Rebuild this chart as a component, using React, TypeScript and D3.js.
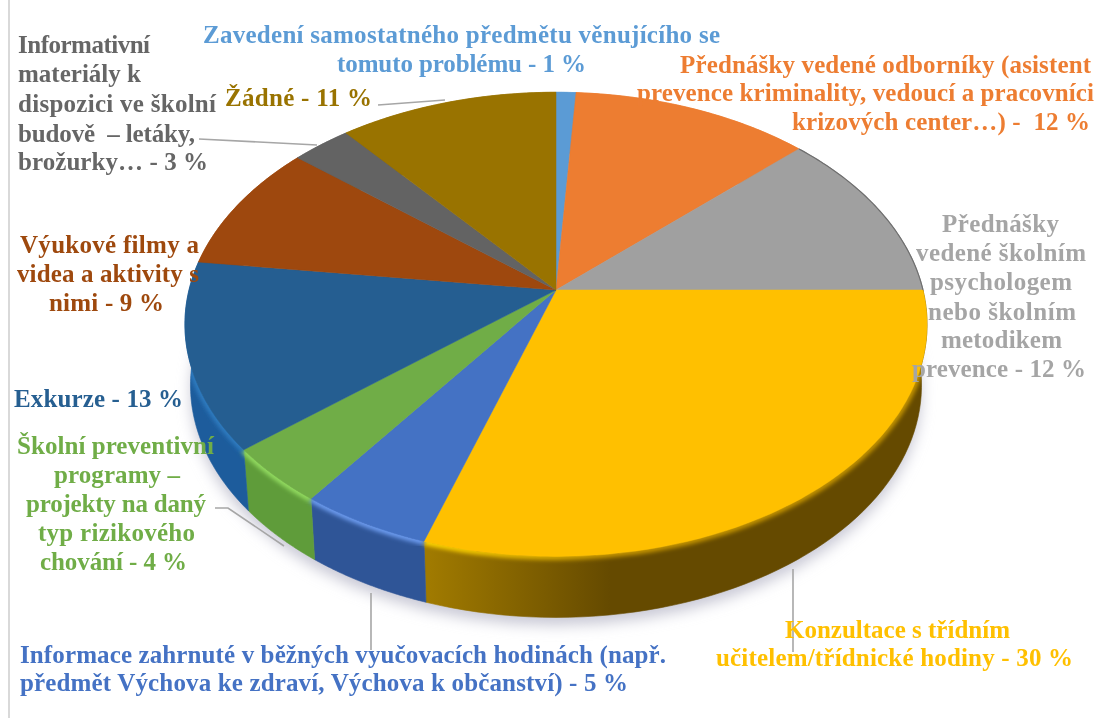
import React from 'react'
import * as d3 from 'd3'

const categories = ['Zavedení', 'Odborníci', 'Psycholog', 'Konzultace', 'Informace', 'Programy', 'Exkurze', 'Filmy', 'Materiály', 'Žádné']
const shares = [1, 12, 12, 30, 5, 4, 13, 9, 3, 11]
const topColors = ['#5b9bd5', '#ed7d31', '#a0a0a0', '#ffc000', '#4472c4', '#70ad47', '#255e91', '#9e480e', '#636363', '#997300']
const rimLeft = ['#5b9bd5', '#ed7d31', '#a0a0a0', '#ffd400', '#6d9cf0', '#93dc60', '#2f7cc0', '#9e480e', '#636363', '#997300']
const rimRight = ['#5b9bd5', '#ed7d31', '#a0a0a0', '#c29300', '#6d9cf0', '#93dc60', '#2f7cc0', '#9e480e', '#636363', '#997300']
const sideLeft = ['#5b9bd5', '#ed7d31', '#a0a0a0', '#a07a00', '#2f5597', '#5f9c3a', '#1d5c9c', '#9e480e', '#636363', '#997300']
const sideRight = ['#5b9bd5', '#ed7d31', '#a0a0a0', '#654a00', '#2f5597', '#5f9c3a', '#1d5c9c', '#9e480e', '#636363', '#997300']

const labelTexts = [
  ['Zavedení samostatného předmětu věnujícího se', 'tomuto problému - 1 %'],
  ['Přednášky vedené odborníky (asistent', 'prevence kriminality, vedoucí a pracovníci', 'krizových center…) -  12 %'],
  ['Přednášky', 'vedené školním', 'psychologem', 'nebo školním', 'metodikem', 'prevence - 12 %'],
  ['Konzultace s třídním', 'učitelem/třídnické hodiny - 30 %'],
  ['Informace zahrnuté v běžných vyučovacích hodinách (např.', 'předmět Výchova ke zdraví, Výchova k občanství) - 5 %'],
  ['Školní preventivní', 'programy –', 'projekty na daný', 'typ rizikového', 'chování - 4 %'],
  ['Exkurze - 13 %'],
  ['Výukové filmy a', 'videa a aktivity s', 'nimi - 9 %'],
  ['Informativní', 'materiály k', 'dispozici ve školní', 'budově  – letáky,', 'brožurky… - 3 %'],
  ['Žádné - 11 %'],
]
const labelColors = ['#5b9bd5', '#ed7d31', '#a5a5a5', '#ffc000', '#4472c4', '#70ad47', '#255e91', '#9e480e', '#666666', '#997300']

// x from, x to, baseline for every line
const labelBoxes = [
  [[203, 720, 43], [337, 586, 72]],
  [[680, 1091, 73], [637, 1094, 101], [792, 1090, 130]],
  [[942, 1059, 232], [916, 1086, 261], [930, 1072, 290], [928, 1076, 320], [941, 1062, 348], [912, 1086, 377]],
  [[785, 1010, 638], [716, 1073, 666]],
  [[20, 666, 663], [20, 628, 691]],
  [[17, 214, 454], [54, 180, 483], [26, 206, 512], [38, 195, 541], [40, 187, 570]],
  [[14, 183, 407]],
  [[20, 199, 253], [17, 199, 282], [49, 164, 311]],
  [[18, 150, 53], [18, 141, 82], [18, 216, 112], [18, 195, 142], [18, 208, 170]],
  [[225, 372, 106]],
]

const leaders = [
  [[378, 105], [445, 100]],
  [[199, 139], [317, 145]],
  [[215, 508], [228, 508], [284, 546]],
  [[371, 593], [371, 650]],
  [[793, 569], [793, 652]],
]

const cx = 556
const cy = 290
const rx = 367
const ry = 227
const tilt = 0.148
const depth = 61
const shrink = 0.985

const project = (a: number): [number, number] => {
  const u = Math.sin(a)
  const v = Math.cos(a)
  const w = 1 + tilt * v
  return [cx + (rx * u) / w, cy - (ry * v) / w]
}
const projectLow = (a: number): [number, number] => {
  const [x, y] = project(a)
  return [cx + (x - cx) * shrink, y + depth]
}

const line = d3.line()
const arcPts = (a0: number, a1: number, fn: (a: number) => [number, number]) =>
  d3.range(0, 61).map((i) => fn(a0 + ((a1 - a0) * i) / 60))

const pie = d3.pie<number>().sort(null)
const slices = pie(shares)
const full = arcPts(0, Math.PI * 2, projectLow)
const fullTop = arcPts(0, Math.PI * 2, project)
const rimFrom = Math.PI / 2
const rimTo = (Math.PI * 3) / 2 + 0.15
const wallShape = [...arcPts(rimFrom, rimTo, project), ...arcPts(rimTo, rimFrom, projectLow)]

export default function App() {
  return (
    <svg width={1094} height={718} style={{ position: 'absolute', left: 0, top: 0, background: '#fff' }}>
      <defs>
        <filter id="shadow" x="-10%" y="-10%" width="120%" height="125%">
          <feGaussianBlur stdDeviation="7" />
        </filter>
        <filter id="rim" x="-10%" y="-10%" width="120%" height="120%">
          <feGaussianBlur stdDeviation="2" />
        </filter>
        <filter id="soft" x="-5%" y="-20%" width="110%" height="140%">
          <feGaussianBlur stdDeviation="0.35" />
        </filter>
        <clipPath id="wallClip">
          <path d={line(wallShape) + 'Z'} />
          <path d={line(fullTop) + 'Z'} />
        </clipPath>
        {slices.map((d, i) => (
          <linearGradient key={i} id={`side${i}`} gradientUnits="userSpaceOnUse" x1={430} x2={610} y1={0} y2={0}>
            <stop offset="0" stopColor={sideLeft[i]} />
            <stop offset="1" stopColor={sideRight[i]} />
          </linearGradient>
        ))}
        {slices.map((d, i) => (
          <linearGradient key={i} id={`rimGrad${i}`} gradientUnits="userSpaceOnUse" x1={430} x2={610} y1={0} y2={0}>
            <stop offset="0" stopColor={rimLeft[i]} />
            <stop offset="1" stopColor={rimRight[i]} />
          </linearGradient>
        ))}
      </defs>
      <line x1={9} x2={9} y1={0} y2={718} stroke="#d9d9d9" strokeWidth={2} />
      <path d={line(full) + 'Z'} transform="translate(0,8)" fill="#c9c9d6" filter="url(#shadow)" />
      {slices.map((d, i) => (
        <path
          key={categories[i]}
          d={line([...arcPts(d.startAngle, d.endAngle, project), ...arcPts(d.endAngle, d.startAngle, projectLow)]) + 'Z'}
          fill={`url(#side${i})`}
          stroke={`url(#side${i})`}
          strokeWidth={0.6}
        />
      ))}
      <g clipPath="url(#wallClip)">
        {slices.slice(3, 7).map((d, i) => (
          <g key={categories[i + 3]} filter="url(#rim)">
            <path
              d={line(arcPts(d.startAngle, Math.min(d.endAngle, rimTo), project))!}
              fill="none"
              stroke={`url(#rimGrad${i + 3})`}
              strokeWidth={7}
            />
          </g>
        ))}
      </g>
      {slices.map((d, i) => (
        <path
          key={categories[i]}
          d={line([[cx, cy], ...arcPts(d.startAngle, d.endAngle, project)]) + 'Z'}
          fill={topColors[i]}
          stroke={topColors[i]}
          strokeWidth={0.5}
        />
      ))}
      <path
        d={line(arcPts(slices[2].startAngle, slices[2].endAngle, project))!}
        fill="none"
        stroke="#6f6f6f"
        strokeWidth={1.2}
      />
      {leaders.map((pts, i) => (
        <path key={i} d={line(pts as [number, number][])!} fill="none" stroke="#a6a6a6" strokeWidth={1.6} />
      ))}
      <g filter="url(#soft)">
        {labelTexts.map((lines, i) =>
          lines.map((t, j) => {
            const [x0, x1, y] = labelBoxes[i][j]
            return (
              <text
                key={`${i}-${j}`}
                x={x0}
                y={y}
                textLength={x1 - x0}
                lengthAdjust="spacing"
                fontFamily="'Liberation Serif', serif"
                fontWeight="bold"
                fontSize={25}
                fill={labelColors[i]}
                xmlSpace="preserve"
              >
                {t}
              </text>
            )
          }),
        )}
      </g>
    </svg>
  )
}
